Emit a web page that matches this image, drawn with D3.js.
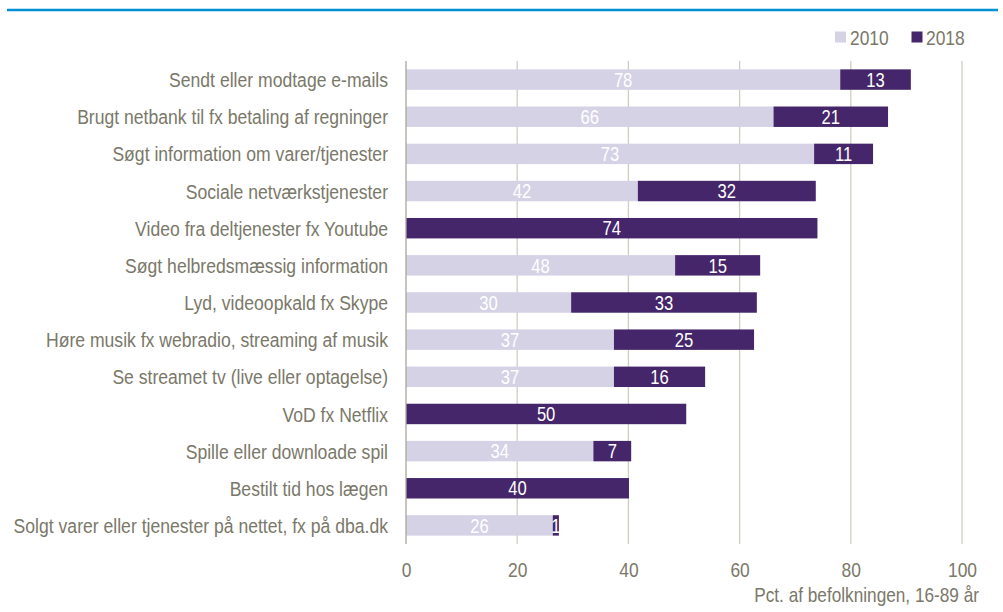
<!DOCTYPE html>
<html>
<head>
<meta charset="utf-8">
<script src="https://cdn.jsdelivr.net/npm/d3@7"></script>
<style>
  html, body { margin: 0; padding: 0; background: #ffffff; }
  svg { display: block; }
  text { font-family: "Liberation Sans", Arial, sans-serif; }
</style>
</head>
<body>
<svg id="chart" width="1003" height="612"></svg>
<script>
const categories = [
  "Sendt eller modtage e-mails",
  "Brugt netbank til fx betaling af regninger",
  "Søgt information om varer/tjenester",
  "Sociale netværkstjenester",
  "Video fra deltjenester fx Youtube",
  "Søgt helbredsmæssig information",
  "Lyd, videoopkald fx Skype",
  "Høre musik fx webradio, streaming af musik",
  "Se streamet tv (live eller optagelse)",
  "VoD fx Netflix",
  "Spille eller downloade spil",
  "Bestilt tid hos lægen ",
  "Solgt varer eller tjenester på nettet, fx på dba.dk"
];
const values2010 = [78.1, 66.1, 73.4, 41.7, 0, 48.4, 29.7, 37.4, 37.4, 0, 33.7, 0, 26.4];
const values2018 = [12.7, 20.6, 10.6, 32.0, 74.0, 15.3, 33.4, 25.2, 16.4, 50.4, 6.8, 40.1, 1.1];
const seriesNames = ["2010", "2018"];
const xTicks = [0, 20, 40, 60, 80, 100];
const axisTitle = "Pct. af befolkningen, 16-89 år";

const colors = { "2010": "#d5d2e5", "2018": "#45266a" };
const textColor = "#7a7869";

// emulate a narrow typeface: horizontally compress each text around its anchor
function narrow(sel, k) {
  sel.each(function () {
    const t = d3.select(this);
    const tx = +t.attr("x") || 0;
    const ty = +t.attr("y") || 0;
    t.attr("x", 0).attr("y", 0)
      .attr("transform", `translate(${tx},${ty}) scale(${k},1)`);
  });
}

const svg = d3.select("#chart");

// top blue rule
svg.append("line")
  .attr("x1", 7).attr("x2", 998).attr("y1", 10).attr("y2", 10)
  .attr("stroke", "#0091d5").attr("stroke-width", 2.4);

const x = d3.scaleLinear().domain([0, 100]).range([406, 962]);
const y = d3.scaleBand().domain(categories).range([61, 544])
  .paddingInner(0.45).paddingOuter(0.225);

// gridlines
svg.append("g").selectAll("line").data(xTicks.filter(t => t > 0)).join("line")
  .attr("x1", d => x(d)).attr("x2", d => x(d))
  .attr("y1", 61).attr("y2", 544)
  .attr("stroke", "#cfcdc2").attr("stroke-width", 1.3);

// x axis tick labels via d3 axis
const xAxis = d3.axisBottom(x).tickValues(xTicks).tickSize(0).tickPadding(0).tickFormat(d3.format("d"));
const gx = svg.append("g").attr("transform", "translate(0,562)").call(xAxis);
gx.select(".domain").remove();
gx.selectAll("text")
  .attr("font-size", 21)
  .attr("font-family", '"Liberation Sans", Arial, sans-serif')
  .attr("fill", textColor)
  .attr("y", 15)
  .attr("dy", null);
narrow(gx.selectAll("text"), 0.83);

// stacked data
const rows = categories.map((c, i) => ({ cat: c, "2010": values2010[i], "2018": values2018[i] }));
const stacked = d3.stack().keys(seriesNames)(rows);

const layers = svg.append("g").selectAll("g").data(stacked).join("g")
  .attr("fill", d => colors[d.key]);
layers.selectAll("rect").data(d => d.filter(s => s[1] - s[0] > 0)).join("rect")
  .attr("x", d => x(d[0]))
  .attr("width", d => x(d[1]) - x(d[0]))
  .attr("y", d => y(d.data.cat))
  .attr("height", y.bandwidth());

// value labels
const fmt = d3.format(".0f");
const labelG = svg.append("g");
stacked.forEach(layer => {
  const lbl = labelG.append("g").selectAll("text").data(layer.filter(s => s[1] - s[0] > 0)).join("text")
    .attr("x", d => (x(d[0]) + x(d[1])) / 2)
    .attr("y", d => y(d.data.cat) + y.bandwidth() / 2)
    .attr("dy", "0.36em")
    .attr("text-anchor", "middle")
    .attr("font-size", 20)
    .attr("fill", "#ffffff")
    .text(d => fmt(d[1] - d[0]));
  narrow(lbl, 0.83);
});

// zero axis line
svg.append("line")
  .attr("x1", x(0)).attr("x2", x(0)).attr("y1", 61).attr("y2", 544)
  .attr("stroke", "#a9a79b").attr("stroke-width", 1.3);

// category labels
const yAxis = d3.axisLeft(y).tickSize(0).tickPadding(18);
const gy = svg.append("g").attr("transform", `translate(${x(0)},0)`).call(yAxis);
gy.select(".domain").remove();
gy.selectAll("text")
  .attr("font-size", 21)
  .attr("font-family", '"Liberation Sans", Arial, sans-serif')
  .attr("fill", textColor)
  .attr("dy", "0.36em");
narrow(gy.selectAll("text"), 0.838);

// legend
const legendItems = [
  { key: "2010", sx: 835, tx: 850 },
  { key: "2018", sx: 911.5, tx: 926 }
];
const lg = svg.append("g");
lg.selectAll("rect").data(legendItems).join("rect")
  .attr("x", d => d.sx).attr("y", 31.5).attr("width", 11).attr("height", 11)
  .attr("fill", d => colors[d.key]);
const lt = lg.selectAll("text").data(legendItems).join("text")
  .attr("x", d => d.tx).attr("y", 45)
  .attr("font-size", 21).attr("fill", textColor)
  .text(d => d.key);
narrow(lt, 0.83);

// axis title
const at = svg.append("text")
  .attr("x", 979).attr("y", 602)
  .attr("text-anchor", "end")
  .attr("font-size", 21)
  .attr("fill", textColor)
  .text(axisTitle);
narrow(at, 0.82);
</script>
</body>
</html>
